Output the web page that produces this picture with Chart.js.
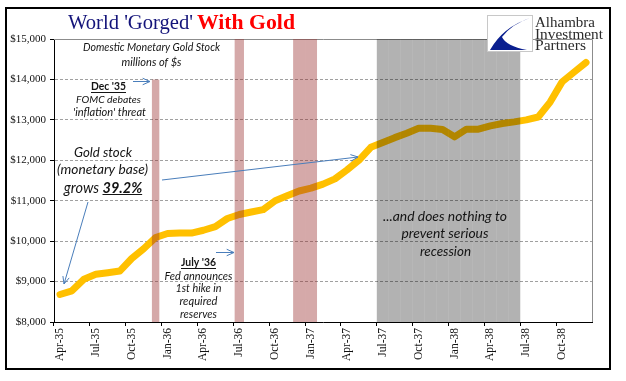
<!DOCTYPE html>
<html>
<head>
<meta charset="utf-8">
<script src="https://cdn.jsdelivr.net/npm/chart.js@4"></script>
<style>
html,body{margin:0;padding:0;background:#fff;}
#wrap{width:626px;height:381px;position:relative;}
</style>
</head>
<body>
<div id="wrap"><canvas id="c" width="626" height="381"></canvas></div>
<script>
// ---- data ----
const months = ['Apr-35','May-35','Jun-35','Jul-35','Aug-35','Sep-35','Oct-35','Nov-35','Dec-35',
  'Jan-36','Feb-36','Mar-36','Apr-36','May-36','Jun-36','Jul-36','Aug-36','Sep-36','Oct-36','Nov-36','Dec-36',
  'Jan-37','Feb-37','Mar-37','Apr-37','May-37','Jun-37','Jul-37','Aug-37','Sep-37','Oct-37','Nov-37','Dec-37',
  'Jan-38','Feb-38','Mar-38','Apr-38','May-38','Jun-38','Jul-38','Aug-38','Sep-38','Oct-38','Nov-38','Dec-38'];
const goldStock = [8680,8770,9060,9180,9220,9260,9570,9810,10090,
  10190,10200,10200,10270,10360,10560,10660,10720,10780,11000,11120,11240,
  11310,11410,11540,11760,12000,12320,12440,12560,12670,12790,12790,12760,
  12580,12770,12770,12850,12910,12950,13000,13070,13440,13940,14180,14420];
const tickLabels = ['Apr-35','Jul-35','Oct-35','Jan-36','Apr-36','Jul-36','Oct-36','Jan-37','Apr-37','Jul-37','Oct-37','Jan-38','Apr-38','Jul-38','Oct-38'];
const fomcMonths = ['Dec-35'];
const reserveHikeMonths = ['Jul-36'];
const secondHikeMonths = ['Dec-36','Jan-37'];
const recessionMonths = ['Jul-37','Aug-37','Sep-37','Oct-37','Nov-37','Dec-37','Jan-38','Feb-38','Mar-38','Apr-38','May-38','Jun-38'];
const yMin = 8000, yMax = 15000, yStep = 1000;
const fomcTop = 14000;

function shade(list, top){ return months.map(m => list.includes(m) ? [yMin, top] : null); }

const SERIF = '"Liberation Serif", "Times New Roman", serif';
const SANS = 'Lato, "Open Sans", sans-serif';

function fitFont(ctx, text, style, family, w){
  ctx.font = style + ' 20px ' + family;
  const m = ctx.measureText(text).width;
  const s = 20 * w / m;
  ctx.font = style + ' ' + s.toFixed(2) + 'px ' + family;
  return s;
}
function txt(ctx, text, cx, cy, w, style, color, underline){
  const s = fitFont(ctx, text, style, SANS, w);
  ctx.fillStyle = color || '#141414';
  ctx.textAlign = 'center';
  ctx.textBaseline = 'middle';
  ctx.fillText(text, cx, cy);
  if (underline){
    ctx.strokeStyle = ctx.fillStyle; ctx.lineWidth = 1;
    ctx.beginPath(); ctx.moveTo(cx - w/2, Math.round(cy + s*0.5) + 0.5); ctx.lineTo(cx + w/2, Math.round(cy + s*0.5) + 0.5); ctx.stroke();
  }
}
function arrow(ctx, x1, y1, x2, y2){
  ctx.save();
  ctx.strokeStyle = '#4a7ebb'; ctx.lineWidth = 1;
  ctx.beginPath(); ctx.moveTo(x1, y1); ctx.lineTo(x2, y2); ctx.stroke();
  const a = Math.atan2(y2 - y1, x2 - x1), L = 8, h = 0.42;
  ctx.beginPath();
  ctx.moveTo(x2 - L*Math.cos(a - h), y2 - L*Math.sin(a - h));
  ctx.lineTo(x2, y2);
  ctx.lineTo(x2 - L*Math.cos(a + h), y2 - L*Math.sin(a + h));
  ctx.stroke();
  ctx.restore();
}

const bgPlugin = {
  id: 'bg',
  beforeDraw(c){ const ctx = c.ctx; ctx.save(); ctx.fillStyle = '#fff'; ctx.fillRect(0, 0, c.width, c.height); ctx.restore(); },
  beforeDatasetsDraw(c){
    const ctx = c.ctx, a = c.chartArea;
    ctx.save(); ctx.strokeStyle = '#8c8c8c'; ctx.lineWidth = 1;
    ctx.beginPath();
    ctx.moveTo(a.left, Math.round(a.top) + 0.5); ctx.lineTo(Math.round(a.right) + 0.5, Math.round(a.top) + 0.5);
    ctx.lineTo(Math.round(a.right) + 0.5, a.bottom);
    ctx.stroke(); ctx.restore();
  },
  afterDraw(c){
    const ctx = c.ctx;
    ctx.save();
    // frame
    ctx.strokeStyle = '#000'; ctx.lineWidth = 2;
    ctx.strokeRect(6, 8, 604, 361);
    // title
    ctx.textAlign = 'left'; ctx.textBaseline = 'alphabetic';
    fitFont(ctx, "World 'Gorged'", 'normal', SERIF, 125);
    ctx.fillStyle = '#14147a'; ctx.fillText("World 'Gorged'", 68, 29);
    fitFont(ctx, 'With Gold', 'bold', SERIF, 98);
    ctx.fillStyle = '#ff0000'; ctx.fillText('With Gold', 197, 29);
    // logo
    ctx.fillStyle = '#fff'; ctx.fillRect(487, 15, 46, 37);
    ctx.strokeStyle = '#c8c8c8'; ctx.lineWidth = 1; ctx.strokeRect(487.5, 15.5, 45, 36);
    ctx.fillStyle = '#0a1f8f';
    ctx.beginPath();
    ctx.moveTo(530, 18);
    ctx.quadraticCurveTo(503, 27, 490, 50);
    ctx.lineTo(527, 50);
    ctx.quadraticCurveTo(506, 46, 502, 37);
    ctx.quadraticCurveTo(512, 24, 530, 18);
    ctx.fill();
    ctx.fillStyle = '#2b2b2b';
    fitFont(ctx, 'Alhambra', 'normal', SERIF, 60); ctx.fillText('Alhambra', 535, 27);
    fitFont(ctx, 'Investment', 'normal', SERIF, 68); ctx.fillText('Investment', 535, 38.5);
    fitFont(ctx, 'Partners', 'normal', SERIF, 51); ctx.fillText('Partners', 535, 50);
    // annotations
    txt(ctx, 'Domestic Monetary Gold Stock', 151.5, 48, 137, 'italic');
    txt(ctx, 'millions of $s', 151.5, 62, 60, 'italic');
    txt(ctx, "Dec '35", 108.5, 87, 35, 'bold', '#141414', true);
    txt(ctx, 'FOMC debates', 108.5, 100, 65, 'italic');
    txt(ctx, "'inflation' threat", 109.5, 112, 73, 'italic');
    arrow(ctx, 133, 81.5, 150, 81.5);
    txt(ctx, 'Gold stock', 103, 153, 58, 'italic');
    txt(ctx, '(monetary base)', 102.5, 170, 91, 'italic');
    // grows 39.2%
    {
      const s1 = fitFont(ctx, 'grows 39.2%', 'italic', SANS, 78);
      ctx.font = 'italic ' + s1.toFixed(2) + 'px ' + SANS;
      const wA = ctx.measureText('grows ').width;
      ctx.font = 'italic bold ' + s1.toFixed(2) + 'px ' + SANS;
      const wB = ctx.measureText('39.2%').width;
      const x0 = 103 - (wA + wB) / 2;
      ctx.textAlign = 'left'; ctx.textBaseline = 'middle'; ctx.fillStyle = '#141414';
      ctx.font = 'italic ' + s1.toFixed(2) + 'px ' + SANS; ctx.fillText('grows ', x0, 188);
      ctx.font = 'italic bold ' + s1.toFixed(2) + 'px ' + SANS; ctx.fillText('39.2%', x0 + wA, 188);
      ctx.strokeStyle = '#141414'; ctx.lineWidth = 1;
      ctx.beginPath(); ctx.moveTo(x0 + wA, 194.5); ctx.lineTo(x0 + wA + wB, 194.5); ctx.stroke();
    }
    arrow(ctx, 88, 202, 64, 284);
    arrow(ctx, 162, 180, 358, 157);
    txt(ctx, "July '36", 198.5, 263, 35, 'bold', '#141414', true);
    txt(ctx, 'Fed announces', 198.5, 276, 68, 'italic');
    txt(ctx, '1st hike in', 198.5, 289, 46, 'italic');
    txt(ctx, 'required', 198.5, 301.5, 38, 'italic');
    txt(ctx, 'reserves', 198.5, 314, 37, 'italic');
    arrow(ctx, 216, 252.5, 234, 252.5);
    txt(ctx, '...and does nothing to', 445, 217, 124, 'italic');
    txt(ctx, 'prevent serious', 445, 234, 87, 'italic');
    txt(ctx, 'recession', 445.5, 252, 51, 'italic');
    ctx.restore();
  }
};

const barCommon = { type: 'bar', grouped: false, categoryPercentage: 1, borderWidth: 0, inflateAmount: 0, order: 1 };

new Chart(document.getElementById('c'), {
  type: 'bar',
  data: {
    labels: months,
    datasets: [
      { type: 'line', label: 'Gold stock', data: goldStock, borderColor: '#FFC000', borderWidth: 7,
        pointRadius: 0, tension: 0, borderJoinStyle: 'round', borderCapStyle: 'round', order: 2, fill: false },
      Object.assign({}, barCommon, { label: 'FOMC', data: shade(fomcMonths, fomcTop), barPercentage: 0.62, backgroundColor: 'rgba(150,40,40,0.4)' }),
      Object.assign({}, barCommon, { label: 'Hike 1', data: shade(reserveHikeMonths, yMax), barPercentage: 0.78, backgroundColor: 'rgba(150,40,40,0.4)' }),
      Object.assign({}, barCommon, { label: 'Hike 2', data: shade(secondHikeMonths, yMax), barPercentage: 1, backgroundColor: 'rgba(150,40,40,0.4)' }),
      Object.assign({}, barCommon, { label: 'Recession', data: shade(recessionMonths, yMax), barPercentage: 1, backgroundColor: 'rgba(0,0,0,0.3)' })
    ]
  },
  options: {
    responsive: false, animation: false, devicePixelRatio: 1,
    layout: { padding: { top: 39, right: 34, left: 0, bottom: 0 } },
    plugins: { legend: { display: false }, tooltip: { enabled: false }, title: { display: false } },
    scales: {
      x: {
        offset: true,
        grid: { offset: true, drawOnChartArea: false, drawTicks: true, tickLength: 4,
          tickColor: (c) => (c.index % 3 === 0 ? '#000' : 'rgba(0,0,0,0)'), color: 'rgba(0,0,0,0)' },
        border: { display: true, color: '#000', width: 1 },
        ticks: { autoSkip: false, maxRotation: 90, minRotation: 90, padding: 2,
          font: { family: SERIF, size: 11.5 }, color: '#111',
          callback: (v, i) => (tickLabels.includes(months[i]) ? months[i] : '') },
        afterFit: (s) => { s.height = 59; }
      },
      y: {
        min: yMin, max: yMax,
        ticks: { stepSize: yStep, padding: 4, font: { family: SERIF, size: 11 }, color: '#111',
          callback: (v) => '$' + Number(v).toLocaleString('en-US') },
        grid: { color: '#a0a0a0', tickColor: '#000', tickLength: 4, tickBorderDash: [], drawTicks: true },
        border: { display: true, color: '#000', width: 1, dash: [3, 2] },
        afterFit: (s) => { s.width = 54; }
      }
    }
  },
  plugins: [bgPlugin]
});
</script>
</body>
</html>
